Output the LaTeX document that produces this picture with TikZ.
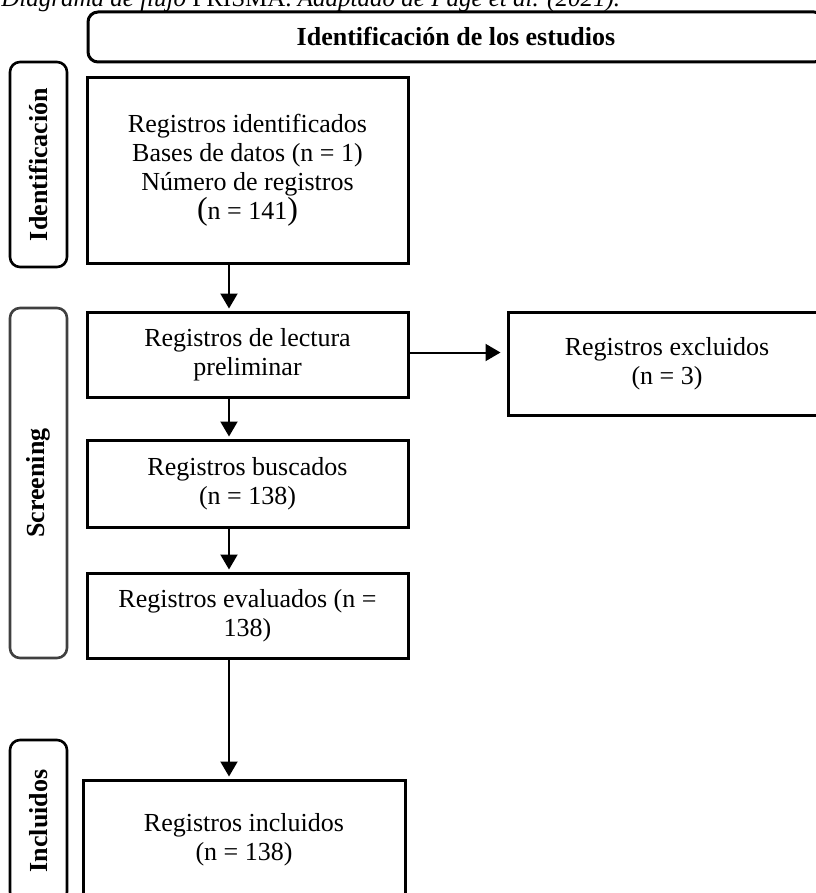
\documentclass[tikz,border=0pt]{standalone}
\usepackage{fontspec}
\setmainfont{Liberation Serif}
\usetikzlibrary{arrows.meta}
\begin{document}
\begin{tikzpicture}[x=0.5pt,y=-0.5pt,
  box/.style={draw=black, line width=1.5pt, minimum width=160.5pt, align=center, inner sep=2pt, font=\fontsize{13}{14.5}\selectfont},
  phase/.style={draw=black, line width=1.3pt, rounded corners=5pt, rotate=90, minimum height=28.5pt, inner sep=0pt, font=\bfseries\fontsize{13}{14}\selectfont},
  arr/.style={line width=1pt, -{Triangle[length=7.5pt,width=8.5pt]}, shorten >=1pt}]
\useasboundingbox (0,0) rectangle (815,893);
\node[anchor=base west, inner sep=0pt, font=\itshape\fontsize{12.5}{14}\selectfont] (caption) at (1,7) {Diagrama de flujo \textup{PRISMA.} Adaptado de Page et al. (2021).};
\node[draw=black, line width=1.5pt, rounded corners=5pt, minimum width=368pt, minimum height=25pt, font=\bfseries\fontsize{13}{14}\selectfont] (estudios) at (456,37) {Identificación de los estudios};
\node[phase, minimum width=102.5pt] (fase1) at (38.5,164.5) {Identificación};
\node[phase, draw=black!75, minimum width=175pt] (fase2) at (38.5,483) {Screening};
\node[phase, minimum width=81pt] (fase3) at (38.5,821) {Incluidos};
\node[box, minimum height=92.5pt] (ident) at (247.5,170.5) {Registros identificados\\Bases de datos (n = 1)\\Número de registros\\{\fontsize{16}{17}\selectfont(}n = 141{\fontsize{16}{17}\selectfont)}};
\node[box, minimum height=42.5pt] (lectura) at (247.5,354.5) {Registros de lectura\\preliminar};
\node[box, minimum height=43.5pt] (buscados) at (247.5,483.5) {Registros buscados\\(n = 138)};
\node[box, minimum height=42.5pt] (evaluados) at (247.5,615.5) {Registros evaluados (n =\\138)};
\node[box, minimum width=161pt, minimum height=60pt] (incluidos) at (244,840) {Registros incluidos\\(n = 138)};
\node[box, minimum width=159pt, minimum height=51.5pt] (excluidos) at (667,363.5) {Registros excluidos\\(n = 3)};
\coordinate (eje) at (229,0);
\foreach \a/\b in {ident/lectura,lectura/buscados,buscados/evaluados,evaluados/incluidos}
  \draw[arr] (\a.south -| eje) -- (\b.north -| eje);
\draw[arr, shorten >=3pt] ([yshift=1pt]lectura.east) -- ([yshift=1pt]lectura.east -| excluidos.west);
\end{tikzpicture}
\end{document}
